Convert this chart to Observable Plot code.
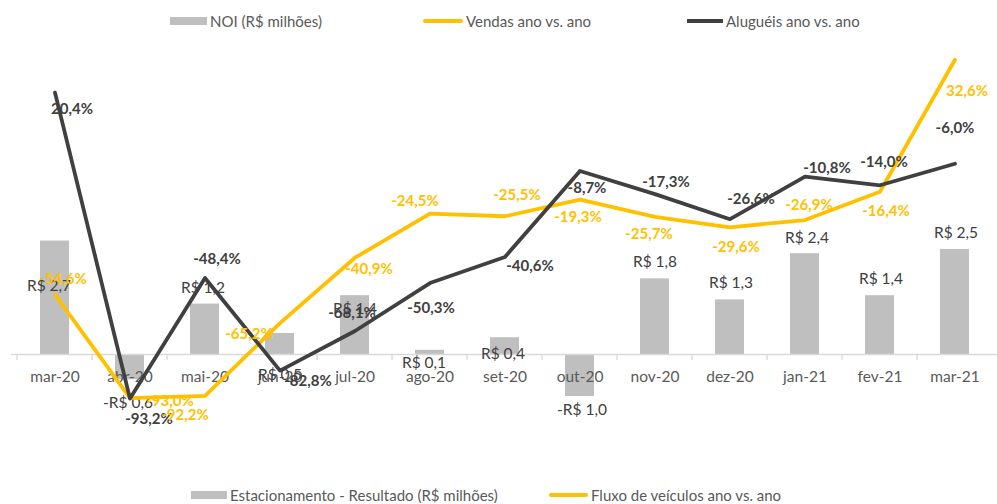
<!DOCTYPE html>
<html><head><meta charset="utf-8">
<script src="https://cdn.jsdelivr.net/npm/d3@7"></script>
<script src="https://cdn.jsdelivr.net/npm/@observablehq/plot@0.6"></script>
<style>
body{margin:0;background:#fff;font-family:Lato,"Open Sans",sans-serif;}
#wrap{position:relative;width:997px;height:504px;overflow:hidden;background:#fff;}
#chart{position:absolute;left:0;top:38px;}
.leg{position:absolute;font-size:15px;color:#595959;line-height:16px;height:16px;display:flex;align-items:center;white-space:nowrap}
.sw{display:inline-block;margin-right:3px}
</style></head><body>
<div id="wrap">
  <div class="leg" style="left:170px;top:13px"><span class="sw" style="width:37px;height:8px;background:#BFBFBF"></span>NOI (R$ milhões)</div>
  <div class="leg" style="left:423px;top:13px"><span class="sw" style="width:40px;height:4px;border-radius:2px;background:#FFC000"></span>Vendas ano vs. ano</div>
  <div class="leg" style="left:687px;top:13px"><span class="sw" style="width:36px;height:4px;background:#404040"></span>Aluguéis ano vs. ano</div>
  <div class="leg" style="left:191px;top:487px"><span class="sw" style="width:36px;height:8px;background:#BFBFBF"></span>Estacionamento - Resultado (R$ milhões)</div>
  <div class="leg" style="left:549px;top:487px"><span class="sw" style="width:39px;height:4px;border-radius:2px;background:#FFC000"></span>Fluxo de veículos ano vs. ano</div>
  <div id="chart"></div>
</div>
<script>
// ---- data ----
const categories = ["mar-20","abr-20","mai-20","jun-20","jul-20","ago-20","set-20","out-20","nov-20","dez-20","jan-21","fev-21","mar-21"];
const noi = [2.7,-0.6,1.2,0.5,1.4,0.1,0.4,-1.0,1.8,1.3,2.4,1.4,2.5];
const vendas = [-54.6,-93.0,-92.2,-65.2,-40.9,-24.5,-25.5,-19.3,-25.7,-29.6,-26.9,-16.4,32.6];
const alugueis = [20.4,-93.2,-48.4,-82.8,-68.1,-50.3,-40.6,-8.7,-17.3,-26.6,-10.8,-14.0,-6.0];

// ---- label placement (pixel offsets) ----
const barLabelOffsets = [[-6,45],[-2,23],[-2,-16],[0,42],[0,13],[-6,13],[-2,16],[2,13],[0,-17],[1,-17],[2,-16],[1,-17],[1,-16]];
const alugLabelOffsets = [[17,17],[19,21],[12,-19],[28,11],[-3,-18],[1,25],[25,9],[7,17],[11,-12],[21,-20],[22,-8],[4,-23],[0,-36]];
const vendLabelOffsets = [[8,-15],[40,3],[-20,19],[-31,11],[14,11],[-15,-12],[12,-21],[-2,18],[-6,17],[6,20],[4,-15],[6,19],[12,31]];

// ---- scales (dual axis) ----
const lineDomain = [-119.9, 40.5];
const barDomain = [-2.76, 7.52];
const toY = d3.scaleLinear().domain(barDomain).range(lineDomain);

const W = 997, H = 432, mL = 11, mR = 0;
const step = (W - mL - mR) / categories.length;
const data = categories.map((c, i) => ({cat: c, noi: noi[i], vendas: vendas[i], alug: alugueis[i]}));
const pct = v => v.toFixed(1).replace(".", ",") + "%";
const brl = v => (v < 0 ? "-" : "") + "R$ " + Math.abs(v).toFixed(1).replace(".", ",");
const zero = toY(0);
const tickLen = 6 / (H / (lineDomain[1] - lineDomain[0]));

const marks = [
  Plot.barY(data, {x: "cat", y1: () => zero, y2: d => toY(d.noi), fill: "#BFBFBF"}),
  Plot.ruleY([zero], {stroke: "#D9D9D9", strokeWidth: 1.3}),
  Plot.ruleX(categories, {x: d => d, y1: zero, y2: zero - tickLen, dx: -step / 2, stroke: "#D9D9D9", strokeWidth: 1.3}),
  Plot.text(categories, {x: d => d, y: zero, dy: 23, text: d => d, fill: "#595959", fontSize: 15.5})
];
data.forEach((d, i) => {
  marks.push(Plot.text([d], {x: "cat", y: t => toY(t.noi), text: t => brl(t.noi), dx: barLabelOffsets[i][0], dy: barLabelOffsets[i][1], fill: "#404040", fontSize: 15.5}));
});
marks.push(Plot.line(data, {x: "cat", y: "vendas", stroke: "#FFC000", strokeWidth: 3.8}));
marks.push(Plot.line(data, {x: "cat", y: "alug", stroke: "#404040", strokeWidth: 3.8}));
data.forEach((d, i) => {
  marks.push(Plot.text([d], {x: "cat", y: "vendas", text: t => pct(t.vendas), dx: vendLabelOffsets[i][0], dy: vendLabelOffsets[i][1], fill: "#FFC000", fontSize: 15, fontWeight: "bold"}));
  marks.push(Plot.text([d], {x: "cat", y: "alug", text: t => pct(t.alug), dx: alugLabelOffsets[i][0], dy: alugLabelOffsets[i][1], fill: "#404040", fontSize: 15, fontWeight: "bold"}));
});

const chart = Plot.plot({
  width: W, height: H,
  marginLeft: mL, marginRight: mR, marginTop: 0, marginBottom: 0,
  x: {domain: categories, paddingInner: 0.62, paddingOuter: 0.31, axis: null},
  y: {domain: lineDomain, axis: null},
  style: {fontFamily: "Lato, 'Open Sans', sans-serif", background: "transparent", overflow: "visible"},
  marks
});
document.getElementById("chart").appendChild(chart);
</script>
</body></html>
